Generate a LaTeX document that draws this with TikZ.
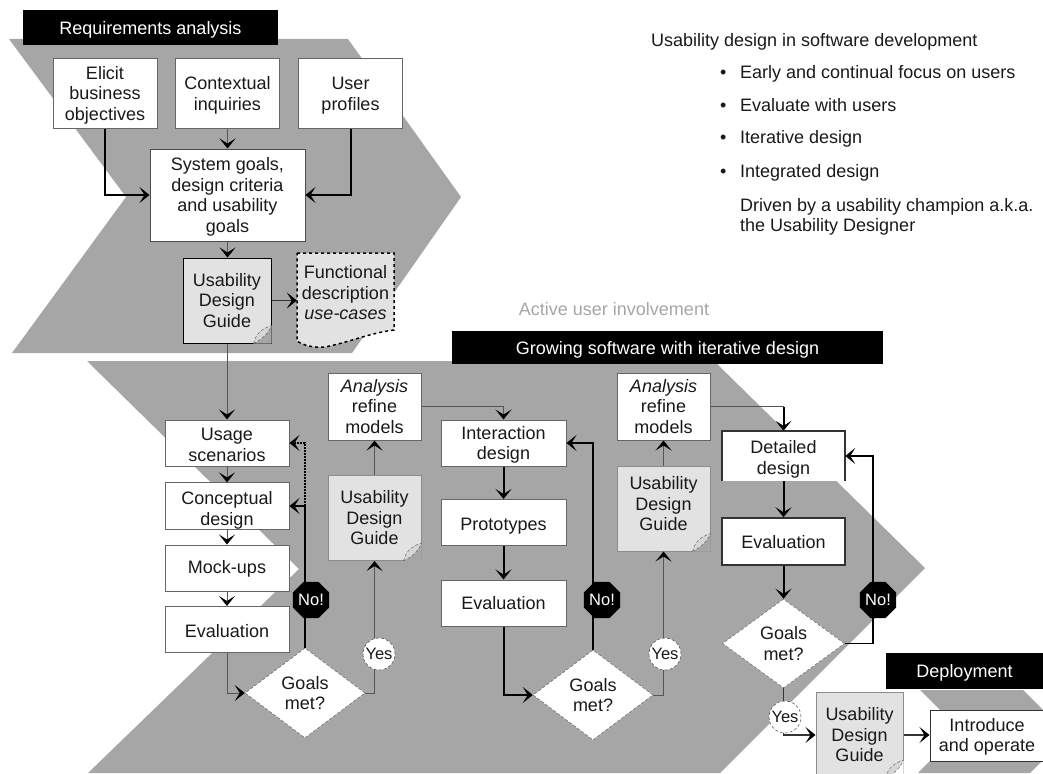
\documentclass[tikz,border=0pt]{standalone}
\usepackage{fontspec}
\setmainfont{Liberation Sans}
\usetikzlibrary{arrows.meta,shapes.geometric,calc}
\definecolor{chev}{HTML}{A6A6A6}
\definecolor{guide}{HTML}{E2E2E2}
\definecolor{thinln}{HTML}{555555}
\newcommand{\txt}{\fontsize{18}{20.5}\selectfont}
\newcommand{\sidetxt}{\fontsize{18}{20}\selectfont}
\newcommand{\lab}{\fontsize{16.5}{20}\selectfont}
\newcommand{\dn}[1]{\rule{0pt}{\dimexpr13pt+#1pt+#1pt\relax}}
\newcommand{\dogear}[2]{%
  \fill[#2] ($(#1.south east)+(-18,0)$) -- ($(#1.south east)+(0,-18)$) -- (#1.south east) -- cycle;
  \draw[thin,gray!70!black,fill=guide!80!chev,densely dashed] ($(#1.south east)+(-18,0)$) .. controls ($(#1.south east)+(-16,-8)$) and ($(#1.south east)+(-12,-14)$) .. ($(#1.south east)+(0,-18)$) .. controls ($(#1.south east)+(-3,-10)$) and ($(#1.south east)+(-10,-4)$) .. cycle;
}
\tikzset{
  every node/.style={font=\txt,align=center,inner sep=0pt,text=black!90},
  bx/.style={rectangle,fill=white,draw=#1,line width=1pt,minimum width=\bw,minimum height=\bh},
  bx/.default={black!60},
  gbox/.style={rectangle,fill=guide,draw=black!45,line width=1pt,minimum width=92,minimum height=85},
  hdr/.style={rectangle,fill=black,text=white},
  dia/.style={diamond,fill=white,draw=black!60,densely dashed,line width=.5pt,aspect=1.35,minimum width=120,minimum height=90},
  nope/.style={regular polygon,regular polygon sides=8,fill=black,text=white,minimum size=37},
  yep/.style={circle,fill=white,draw=black!70,densely dashed,line width=.5pt,minimum size=32},
  head/.style={-{Stealth[length=10pt,width=16pt,inset=5pt,color=black]}},
  heavy/.style={head,line width=2pt,black},
  light/.style={head,line width=1pt,thinln},
  mid/.style={head,line width=1.5pt,black!80},
  side/.style={font=\sidetxt,anchor=base west,align=left},
}
\newlength{\bw}\newlength{\bh}
\begin{document}
\begin{tikzpicture}[x=1pt,y=-1pt]
\useasboundingbox (0,0) rectangle (1043,773);
\clip (0,0) rectangle (1043,773);
% chevrons
\fill[chev] (9,39) -- (348,39) -- (461,197) -- (352,353) -- (12,353) -- (126,197) -- cycle;
\fill[chev] (87,361) -- (714,361) -- (925,568) -- (720,773) -- (88,773) -- (299,569) -- cycle;
\fill[chev] (920,690) -- (1023,690) -- (1068,735) -- (1030,773) -- (918,773) -- (960,730) -- cycle;
% headers
\node[hdr,minimum width=255,minimum height=35] (h1) at (150.5,27.5) {\dn{2}Requirements analysis};
\node[hdr,minimum width=431,minimum height=33] (h2) at (667.5,347.5) {\dn{2}Growing software with iterative design};
\node[hdr,minimum width=157,minimum height=36] (h3) at (964.5,671) {\dn{2}Deployment};
\node[text=black!35] (active) at (614,309) {\sidetxt Active user involvement};
% side text
\node[side] (s0) at (651,47) {Usability design in software development};
\node[side] (b1) at (720,79) {•}; \node[side] (s1) at (740,79) {Early and continual focus on users};
\node[side] (b2) at (720,111) {•}; \node[side] (s2) at (740,111) {Evaluate with users};
\node[side] (b3) at (720,143) {•}; \node[side] (s3) at (740,143) {Iterative design};
\node[side] (b4) at (720,177) {•}; \node[side] (s4) at (740,177) {Integrated design};
\node[side] (s5) at (740,211) {Driven by a usability champion a.k.a.};
\node[side] (s6) at (740,231) {the Usability Designer};
% requirements boxes
\setlength{\bw}{104pt}\setlength{\bh}{69pt}
\node[bx] (elicit) at (105,93.5) {\dn{1.5}Elicit\\business\\objectives};
\node[bx] (ctx) at (227.5,93.5) {\dn{2}Contextual\\inquiries};
\node[bx] (user) at (350.5,93.5) {\dn{2}User\\profiles};
\setlength{\bw}{155pt}\setlength{\bh}{92pt}
\node[bx=black!70] (sys) at (227.5,195) {\dn{2}System goals,\\design criteria\\and usability\\goals};
\node[gbox,draw=black,minimum width=88] (g1) at (227,300.5) {Usability\\Design\\Guide};
\dogear{g1}{chev}
\path[fill=guide,draw=black,line width=1.5pt,dashed] (297,253) -- (394,253) -- (394,330) .. controls (370,333) and (350,342) .. (325,347) .. controls (312,348) and (303,345) .. (297,341) -- cycle;
\node[minimum width=97,minimum height=88] (func) at (345.5,293) {Functional\\description\\\textit{use-cases}};
% first iteration
\setlength{\bw}{124pt}\setlength{\bh}{46pt}
\node[bx] (use) at (227,443) {\dn{1.5}Usage\\scenarios};
\node[bx] (con) at (227,506) {\dn{4.5}Conceptual\\design};
\node[bx] (mock) at (227,568) {\dn{1}Mock-ups};
\node[bx] (ev1) at (227,629.5) {\dn{2}Evaluation};
\node[dia] (d1) at (305,693) {Goals\\met?};
\node[gbox,minimum width=93] (g2) at (374.5,518) {Usability\\Design\\Guide};
\dogear{g2}{chev}
\setlength{\bw}{93pt}\setlength{\bh}{67pt}
\node[bx] (a1) at (374.5,406.5) {\textit{Analysis}\\refine\\models};
% second iteration
\setlength{\bw}{125pt}\setlength{\bh}{46pt}
\node[bx] (int) at (503.5,443) {\dn{2}Interaction\\design};
\node[bx] (pro) at (503.5,522.5) {\dn{3}Prototypes};
\node[bx] (ev2) at (503.5,603) {Evaluation};
\node[dia] (d2) at (593,695) {Goals\\met?};
\node[gbox,minimum width=93] (g3) at (663.5,508.5) {};
\node (g3t) at (663.5,504) {Usability\\Design\\Guide};
\dogear{g3}{chev}
\setlength{\bw}{93pt}\setlength{\bh}{67pt}
\node[bx] (a2) at (663.5,406.5) {\textit{Analysis}\\refine\\models};
% third iteration
\setlength{\bw}{123pt}\setlength{\bh}{50pt}
\node[rectangle,fill=white,minimum width=\bw,minimum height=\bh] (det) at (783.5,456) {\dn{3.5}Detailed\\design};
\draw[line width=1.5pt,black!80] (det.south west) -- (det.north west) -- (det.north east) -- (det.south east);
\setlength{\bh}{47pt}
\node[bx=black!80,line width=1.5pt] (ev3) at (783.5,541.5) {\dn{1}Evaluation};
\node[dia,minimum width=122,minimum height=89] (d3) at (783.5,643.5) {Goals\\met?};
\node[gbox,minimum width=87] (g4) at (859.5,735) {Usability\\Design\\Guide};
\dogear{g4}{white}
\setlength{\bw}{114pt}\setlength{\bh}{51pt}
\node[bx=black!80] (intro) at (987,736) {\dn{1}Introduce\\and operate};
\coordinate (loop) at (873,500);
% connectors
\draw[heavy] (elicit.south) |- (sys.west);
\draw[heavy] (user.south) |- (sys.east);
\draw[light] (ctx.south) -- (sys.north -| ctx.south);
\draw[light] (sys.south) -- (g1.north -| sys.south);
\draw[mid] (g1.east) -- (g1.east -| func.west);
\draw[light] (g1.south) -- (use.north -| g1.south);
\draw[light] (use) -- (con);
\draw[light] (con) -- (mock);
\draw[light] (mock) -- (ev1);
\draw[light] (ev1.south) |- (d1.west);
\draw[heavy] (d1.north) |- (con.east);
\draw[heavy,densely dotted] (d1.north |- con.east) |- (use.east);
\draw[light] (d1.east) -| (g2.south);
\draw[light] (g2.north) -- (a1.south);
\draw[light] (a1.east) -| (int.north);
\draw[heavy] (int) -- (pro);
\draw[heavy] (pro) -- (ev2);
\draw[heavy] (ev2.south) |- (d2.west);
\draw[heavy] (d2.north) |- (int.east);
\draw[light] (d2.east) -| (g3.south);
\draw[light] (g3.north) -- (a2.south);
\draw[line width=1pt,thinln] (a2.east) -- (a2.east -| det.north);
\draw[heavy] (a2.east -| det.north) -- (det.north);
\draw[heavy] (det.south) -- (ev3.north);
\draw[heavy] (ev3.south) -- (d3.north);
\draw[mid,black] (d3.east) -| (loop) |- (det.east);
\draw[mid] (d3.south) |- (g4.west);
\draw[mid] (g4.east) -- (g4.east -| intro.west);
% labels on the lines
\node[nope] (no1) at (311,600) {\lab No!};
\node[nope] (no2) at (602,600) {\lab No!};
\node[nope] (no3) at (878,600) {\lab No!};
\node[yep] (y1) at (379,654) {\lab Yes};
\node[yep] (y2) at (665,654) {\lab Yes};
\node[yep] (y3) at (785,717) {\lab Yes};
\end{tikzpicture}
\end{document}
